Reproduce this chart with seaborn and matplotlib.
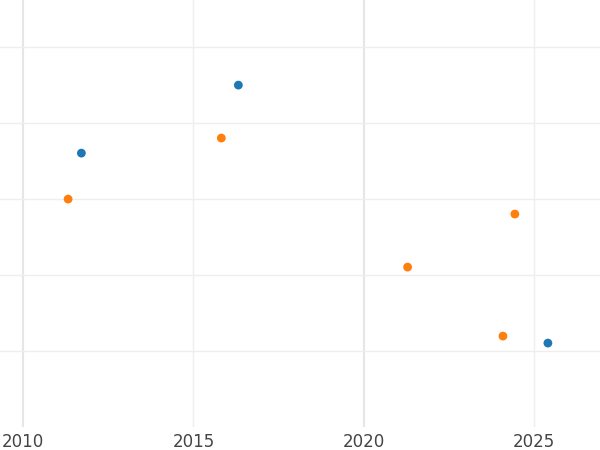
import matplotlib
matplotlib.use('Agg')
import matplotlib.pyplot as plt
import pandas as pd
import seaborn as sns

# values
years = [2011.71, 2016.32, 2025.41, 2011.32, 2015.82, 2021.29, 2024.44, 2024.09]
values = [36.05, 45.0, 11.05, 30.0, 38.03, 21.05, 28.03, 11.97]
series = ['a', 'a', 'a', 'b', 'b', 'b', 'b', 'b']
colors = {'a': '#1f77b4', 'b': '#ff7f0e'}

df = pd.DataFrame({'year': years, 'value': values, 'series': series})

sns.set_style('white')
fig = plt.figure(figsize=(6, 4.5), dpi=100)
ax = fig.add_axes([0, 0.051, 1, 0.949])
sns.scatterplot(data=df, x='year', y='value', hue='series', palette=colors,
                s=40, edgecolor='none', legend=False, ax=ax, zorder=3)

ax.set_xlim(2009.32, 2026.94)
ax.set_ylim(0, 56.2)
ax.set_xticks([2010, 2015, 2020, 2025])
ax.set_yticks([10, 20, 30, 40, 50])
ax.set_yticklabels([])
for x in [2010, 2020]:
    ax.axvline(x, color='#e6e6e6', lw=1.5, zorder=0)
for x in [2015, 2025]:
    ax.axvline(x, color='#eeeeee', lw=1, zorder=0)
for y in [10, 20, 30, 40, 50]:
    ax.axhline(y, color='#eeeeee', lw=1, zorder=0)
ax.tick_params(axis='both', length=0, labelsize=12, labelcolor='#444444')
ax.tick_params(axis='x', pad=4)
ax.set_xlabel('')
ax.set_ylabel('')
sns.despine(ax=ax, left=True, bottom=True)

fig.savefig('out.png')
